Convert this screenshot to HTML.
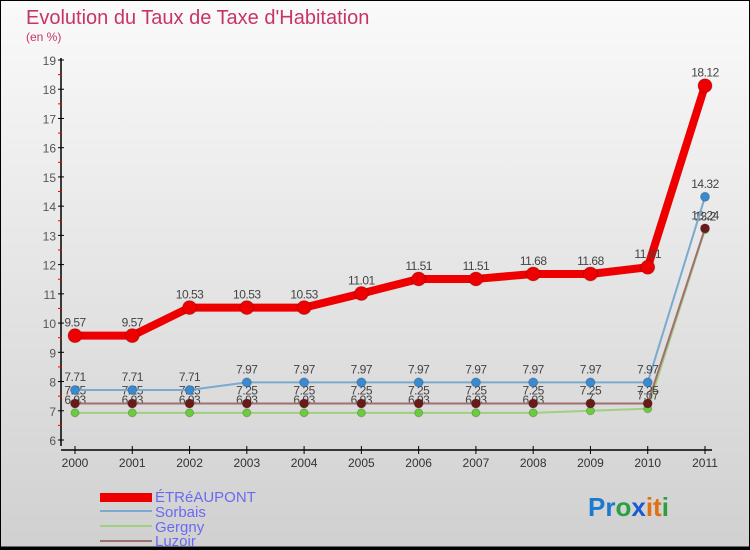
<!DOCTYPE html>
<html><head><meta charset="utf-8"><style>
body{margin:0;background:#fff}
svg{display:block;font-family:"Liberation Sans",sans-serif}
</style></head><body>
<svg id="c" width="750" height="550" xmlns="http://www.w3.org/2000/svg">
<defs><linearGradient id="bg" x1="0" y1="0" x2="0" y2="1"><stop offset="0" stop-color="#fafafa"/><stop offset="1" stop-color="#d0d0d0"/></linearGradient></defs>
<rect x="0" y="0" width="750" height="550" fill="url(#bg)" stroke="#000" stroke-width="2"/>
<text x="26" y="24" font-size="20" fill="#c8336a">Evolution du Taux de Taxe d'Habitation</text>
<text x="26" y="41" font-size="12" fill="#c8336a">(en %)</text>
<g id="axes"></g><g id="series"></g>
<g>
<rect x="100" y="493" width="52" height="9" fill="#e00"/>
<text x="155" y="502" font-size="15" fill="#6a6af0">ÉTRéAUPONT</text>
<line x1="100" y1="511" x2="152" y2="511" stroke="#7aaad0" stroke-width="2"/>
<text x="155" y="517" font-size="15" fill="#6a6af0">Sorbais</text>
<line x1="100" y1="526" x2="152" y2="526" stroke="#9fd07f" stroke-width="2"/>
<text x="155" y="532" font-size="15" fill="#6a6af0">Gergny</text>
<line x1="100" y1="541" x2="152" y2="541" stroke="#a07070" stroke-width="2"/>
<text x="155" y="546" font-size="15" fill="#6a6af0">Luzoir</text>
</g>
<g font-size="26" font-weight="bold">
<text x="588" y="516"><tspan fill="#1a7ad0">Pr</tspan><tspan fill="#2aa040">o</tspan><tspan fill="#1a5ad0">x</tspan><tspan fill="#e07010">it</tspan><tspan fill="#2aa040">i</tspan></text>
</g>
<line x1="0" y1="548" x2="750" y2="548" stroke="#000" stroke-width="3"/>
</svg>
<script>
const years=[2000,2001,2002,2003,2004,2005,2006,2007,2008,2009,2010,2011];
const etreaupont=[9.57,9.57,10.53,10.53,10.53,11.01,11.51,11.51,11.68,11.68,11.91,18.12];
const sorbais=[7.71,7.71,7.71,7.97,7.97,7.97,7.97,7.97,7.97,7.97,7.97,14.32];
const gergny=[6.93,6.93,6.93,6.93,6.93,6.93,6.93,6.93,6.93,7,7.07,13.2];
const luzoir=[7.25,7.25,7.25,7.25,7.25,7.25,7.25,7.25,7.25,7.25,7.25,13.24];
const yTicks=[6,7,8,9,10,11,12,13,14,15,16,17,18,19];
const NS="http://www.w3.org/2000/svg";
const x=i=>75+i*(630/11);
const y=v=>440-(v-6)*(380/13);
function mk(tag,attrs,parent){const e=document.createElementNS(NS,tag);for(const k in attrs)e.setAttribute(k,attrs[k]);parent.appendChild(e);return e;}
const ax=document.getElementById('axes');
const ya=mk('line',{x1:61,y1:58,x2:61,y2:446,stroke:'#000','stroke-width':1.5},ax);


const xa=mk('line',{x1:61,y1:450,x2:712,y2:450,stroke:'#000','stroke-width':1.5},ax);


yTicks.forEach(v=>{
 mk('line',{x1:58,y1:y(v),x2:64,y2:y(v),stroke:'#000'},ax);
 if(v<19)mk('line',{x1:58,y1:y(v+0.5),x2:62,y2:y(v+0.5),stroke:'#e00'},ax);
 const t=mk('text',{x:56,y:y(v)+5,'font-size':12,fill:'#555','text-anchor':'end'},ax);
 t.textContent=v;
 
 
});
years.forEach((yr,i)=>{
 mk('line',{x1:x(i),y1:446,x2:x(i),y2:454,stroke:'#000'},ax);
 const t=mk('text',{x:x(i),y:467,'font-size':12,fill:'#333','text-anchor':'middle'},ax);
 t.textContent=yr;
 
 
});
const sg=document.getElementById('series');
function series(name,data,color,dot,w,r){
 const g=mk('g',{},sg);
 
 
 const p=mk('polyline',{points:data.map((v,i)=>x(i)+','+y(v)).join(' '),fill:'none',stroke:color,'stroke-width':w,'stroke-linejoin':'round'},g);
 
 
 data.forEach((v,i)=>{
  const c=mk('circle',{cx:x(i),cy:y(v),r:r,fill:dot,stroke:'rgba(0,0,0,0.2)'},g);
  
  
  const t=mk('text',{x:x(i),y:y(v)-9,'font-size':12,fill:'#444','text-anchor':'middle','letter-spacing':'-0.5'},g);
  t.textContent=v;
  
  
 });
}
series('gergny',gergny,'#9fd07f','#6ccc40',2,4);
series('luzoir',luzoir,'#a07070','#6a1a1a',2,4.5);
series('sorbais',sorbais,'#7aaad0','#3a8ad0',2,4.5);
series('etreaupont',etreaupont,'#ee0000','#ee0000',8,7);
</script>
</body></html>
